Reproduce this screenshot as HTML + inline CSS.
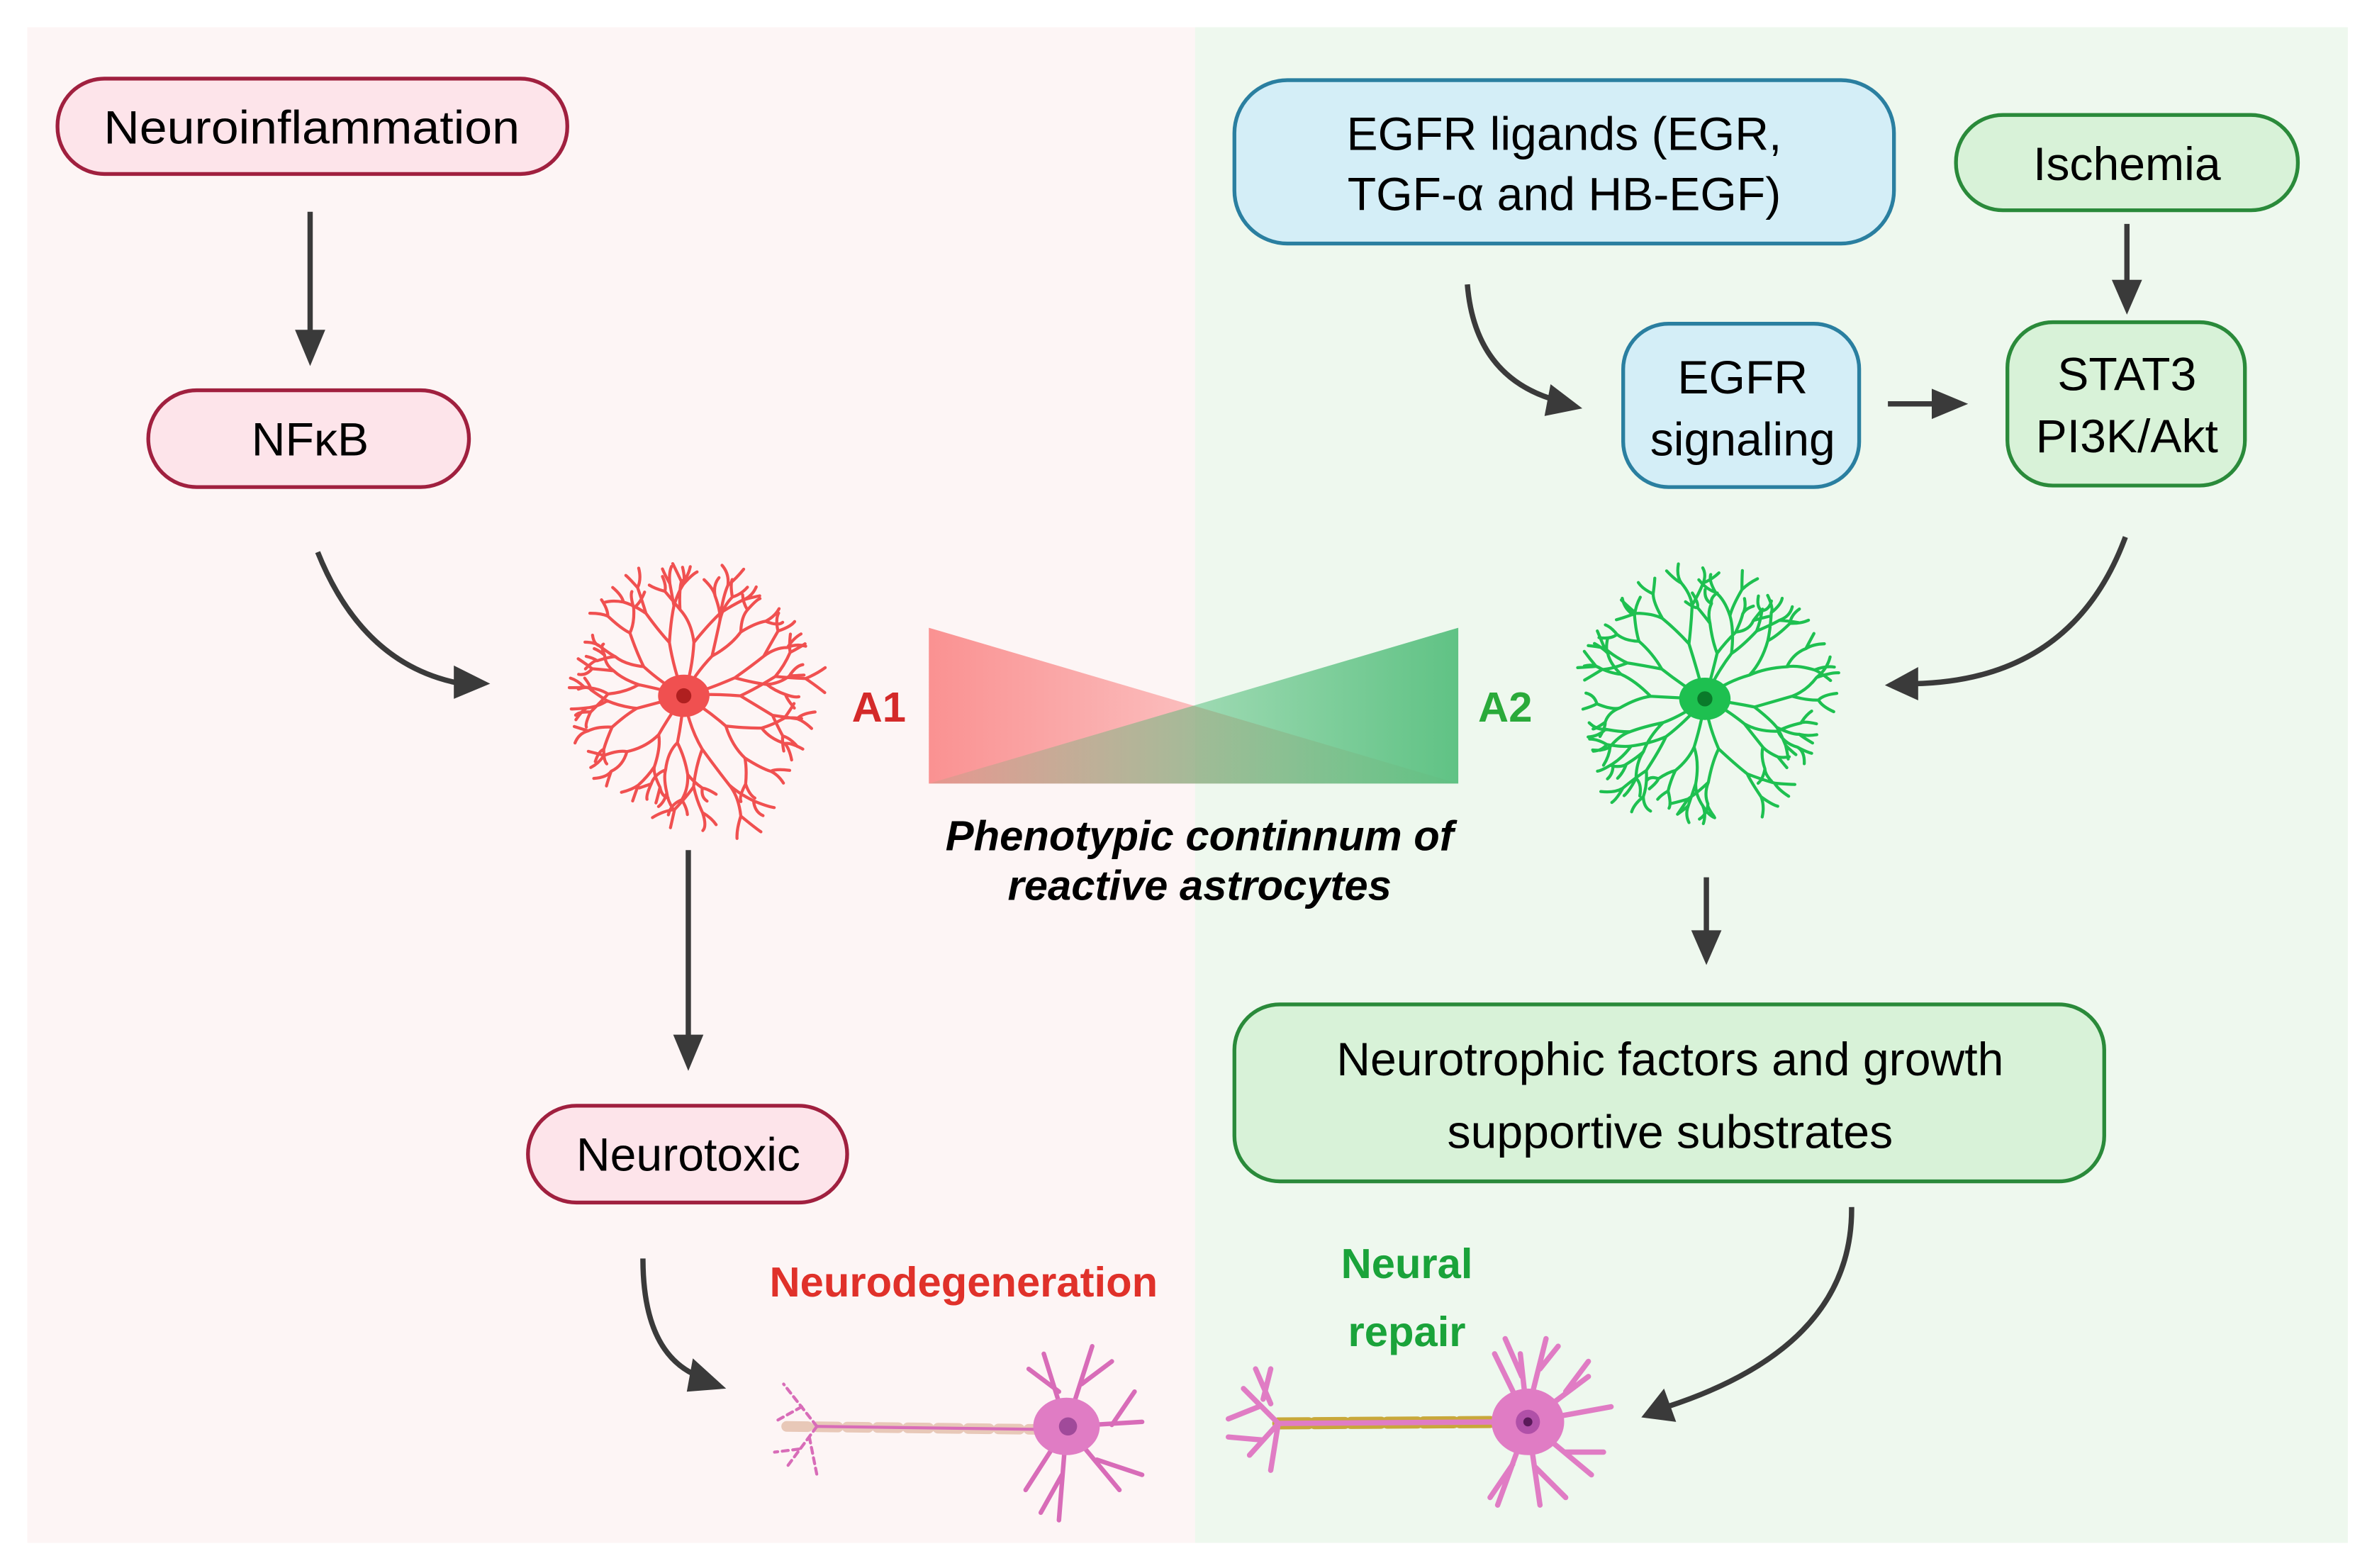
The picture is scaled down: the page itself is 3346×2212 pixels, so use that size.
<!DOCTYPE html>
<html><head><meta charset="utf-8"><style>
html,body{margin:0;padding:0;background:#fff}
svg{display:block}
text{font-family:"Liberation Sans",sans-serif}
</style></head><body>
<svg id="s" width="3346" height="2212" viewBox="0 0 1568 1036.6" xmlns="http://www.w3.org/2000/svg">
<defs>
<linearGradient id="rg" x1="0" x2="1" y1="0" y2="0"><stop offset="0" stop-color="#f98080" stop-opacity="0.85"/><stop offset="1" stop-color="#f98080" stop-opacity="0.1"/></linearGradient>
<linearGradient id="gg" x1="0" x2="1" y1="0" y2="0"><stop offset="0" stop-color="#3cb56a" stop-opacity="0.1"/><stop offset="1" stop-color="#3cb56a" stop-opacity="0.8"/></linearGradient>
</defs>
<rect x="18" y="18" width="772" height="1002" fill="#fdf5f5"/>
<rect x="790" y="18" width="762" height="1002" fill="#eef8ee"/>

<rect x="38" y="52" width="337" height="63" rx="31" fill="#fde4ea" stroke="#a0203f" stroke-width="2.5"/>
<text x="206" y="95" font-size="31" text-anchor="middle" textLength="275" lengthAdjust="spacingAndGlyphs">Neuroinflammation</text>
<rect x="98" y="258" width="212" height="64" rx="32" fill="#fde4ea" stroke="#a0203f" stroke-width="2.5"/>
<text x="205" y="301" font-size="31" text-anchor="middle">NFκB</text>
<rect x="349" y="731" width="211" height="64" rx="32" fill="#fde4ea" stroke="#a0203f" stroke-width="2.5"/>
<text x="455" y="774" font-size="31" text-anchor="middle">Neurotoxic</text>

<g stroke="#3a3a3a" stroke-width="3.5" fill="none">
<line x1="205" y1="140" x2="205" y2="222"/>
<path d="M210,365 Q240,440 305,452"/>
<line x1="455" y1="562" x2="455" y2="688"/>
<path d="M425,832 Q425,895 462,910"/>
</g>
<g fill="#3a3a3a">
<path d="M195,218 L215,218 L205,242 z"/>
<path d="M300,440 L324,452 L300,462 z"/>
<path d="M445,684 L465,684 L455,708 z"/>
<path d="M458,898 L480,918 L454,920 z"/>
</g>

<polygon points="614,415 614,518 964,518" fill="url(#rg)"/>
<polygon points="964,415 964,518 614,518" fill="url(#gg)"/>
<text x="581" y="477" font-size="28" font-weight="bold" fill="#d42a2a" text-anchor="middle">A1</text>
<text x="995" y="477" font-size="28" font-weight="bold" fill="#2aaa3a" text-anchor="middle">A2</text>
<text x="793" y="562" font-size="28" font-weight="bold" font-style="italic" text-anchor="middle">Phenotypic continnum of</text>
<text x="793" y="595" font-size="28" font-weight="bold" font-style="italic" text-anchor="middle">reactive astrocytes</text>
<text x="637" y="857" font-size="28" font-weight="bold" fill="#e0312a" text-anchor="middle">Neurodegeneration</text>
<text x="930" y="845" font-size="28" font-weight="bold" fill="#1aa33a" text-anchor="middle">Neural</text>
<text x="930" y="890" font-size="28" font-weight="bold" fill="#1aa33a" text-anchor="middle">repair</text>

<rect x="816" y="53" width="436" height="108" rx="35" fill="#d4eef7" stroke="#2a7fa0" stroke-width="2.5"/>
<text x="1034" y="99" font-size="31" text-anchor="middle">EGFR ligands (EGR,</text>
<text x="1034" y="139" font-size="31" text-anchor="middle">TGF-α and HB-EGF)</text>
<rect x="1293" y="76" width="226" height="63" rx="31" fill="#d8f2d8" stroke="#2a8a3a" stroke-width="2.5"/>
<text x="1406" y="119" font-size="31" text-anchor="middle">Ischemia</text>
<rect x="1073" y="214" width="156" height="108" rx="30" fill="#d4eef7" stroke="#2a7fa0" stroke-width="2.5"/>
<text x="1152" y="260" font-size="31" text-anchor="middle">EGFR</text>
<text x="1152" y="301" font-size="31" text-anchor="middle">signaling</text>
<rect x="1327" y="213" width="157" height="108" rx="30" fill="#d8f2d8" stroke="#2a8a3a" stroke-width="2.5"/>
<text x="1406" y="258" font-size="31" text-anchor="middle">STAT3</text>
<text x="1406" y="299" font-size="31" text-anchor="middle">PI3K/Akt</text>
<rect x="816" y="664" width="575" height="117" rx="30" fill="#d8f2d8" stroke="#2a8a3a" stroke-width="2.5"/>
<text x="1104" y="711" font-size="31" text-anchor="middle">Neurotrophic factors and growth</text>
<text x="1104" y="759" font-size="31" text-anchor="middle">supportive substrates</text>

<g stroke="#3a3a3a" stroke-width="3.5" fill="none">
<line x1="1406" y1="148" x2="1406" y2="188"/>
<path d="M970,188 Q975,250 1030,265"/>
<line x1="1248" y1="267" x2="1280" y2="267"/>
<path d="M1405,355 Q1370,450 1265,452"/>
<line x1="1128" y1="580" x2="1128" y2="618"/>
<path d="M1224,798 Q1225,890 1102,930"/>
</g>
<g fill="#3a3a3a">
<path d="M1396,185 L1416,185 L1406,208 z"/>
<path d="M1025,254 L1046,270 L1021,275 z"/>
<path d="M1277,257 L1301,267 L1277,277 z"/>
<path d="M1268,441 L1246,453 L1268,463 z"/>
<path d="M1118,615 L1138,615 L1128,638 z"/>
<path d="M1100,918 L1085,937 L1108,940 z"/>
</g>

<g id="astros"></g>

<g stroke="#d86cb8" fill="none" stroke-linecap="round">
<line x1="520" y1="943" x2="690" y2="945" stroke="#e8c8b8" stroke-width="7" stroke-dasharray="14 6"/>
<line x1="540" y1="943" x2="690" y2="945" stroke-width="2"/>
<path d="M540,943 L518,915 M530,930 L512,940 M540,943 L520,970 M528,958 L512,960 M535,950 L540,975" stroke-width="2" stroke-dasharray="4 3"/>
<path d="M705,943 L690,895 M700,920 L680,905 M705,943 L722,890 M715,915 L735,900 M705,943 L755,940 M735,942 L750,920 M705,943 L740,985 M725,965 L755,975 M705,943 L700,1005 M702,975 L688,1000 M705,943 L678,985" stroke-width="3"/>
<ellipse cx="705" cy="943" rx="22" ry="19" fill="#e07cc4" stroke="none"/>
<circle cx="706" cy="943" r="6" fill="#a04a9a" stroke="none"/>
</g>
<g stroke="#e07cc4" fill="none" stroke-linecap="round">
<line x1="845" y1="941" x2="1000" y2="940" stroke="#c8a83a" stroke-width="8" stroke-dasharray="20 4"/>
<line x1="845" y1="941" x2="1000" y2="940" stroke-width="3.5"/>
<path d="M845,941 L822,918 M832,930 L812,938 M845,941 L826,962 M835,952 L812,950 M840,928 L830,905 M845,941 L840,972 M835,925 L840,905" stroke-width="3.5"/>
<path d="M1010,940 L1005,895 M1006,910 L995,885 M1012,925 L1022,885 M1018,905 L1030,890 M1010,940 L1050,910 M1035,920 L1050,900 M1010,940 L1065,930 M1010,940 L1052,975 M1035,960 L1060,960 M1010,940 L1018,995 M1015,970 L1035,990 M1010,940 L990,995 M1000,968 L985,990 M1010,940 L988,895" stroke-width="3.5"/>
<ellipse cx="1010" cy="940" rx="24" ry="22" fill="#e07cc4" stroke="none"/>
<circle cx="1010" cy="940" r="8" fill="#b050a8" stroke="none"/>
<circle cx="1010" cy="940" r="3" fill="#5a1a5a" stroke="none"/>
</g>
</svg>
<script>
(function(){
var seed=7;function r(){seed=(seed*16807)%2147483647;return seed/2147483647;}
var g=document.getElementById('astros');var ns='http://www.w3.org/2000/svg';
function astro(cx,cy,col,dark){
 var d='';
 function br(x,y,a,len,depth){
  var x2=x+Math.cos(a)*len,y2=y+Math.sin(a)*len;
  var mx=(x+x2)/2+(r()-0.5)*6,my=(y+y2)/2+(r()-0.5)*6;
  d+='M'+x.toFixed(1)+','+y.toFixed(1)+' Q'+mx.toFixed(1)+','+my.toFixed(1)+' '+x2.toFixed(1)+','+y2.toFixed(1)+' ';
  if(depth>0){for(var i=0;i<2;i++){br(x2,y2,a+(i?1:-1)*(0.25+r()*0.35),len*(0.6+r()*0.2),depth-1);}}
 }
 var N=12;
 for(var i=0;i<N;i++){var a=i/N*Math.PI*2+r()*0.3;br(cx,cy,a,30+r()*8,3);}
 var p=document.createElementNS(ns,'path');p.setAttribute('d',d);p.setAttribute('stroke',col);p.setAttribute('stroke-width','2');p.setAttribute('fill','none');p.setAttribute('stroke-linecap','round');g.appendChild(p);
 var e=document.createElementNS(ns,'ellipse');e.setAttribute('cx',cx);e.setAttribute('cy',cy);e.setAttribute('rx',17);e.setAttribute('ry',14);e.setAttribute('fill',col);g.appendChild(e);
 var c=document.createElementNS(ns,'circle');c.setAttribute('cx',cx);c.setAttribute('cy',cy);c.setAttribute('r',5);c.setAttribute('fill',dark);g.appendChild(c);
}
astro(452,460,'#f05050','#b02020');
astro(1127,462,'#1ec050','#0a7a2a');
})();
</script>
</body></html>
